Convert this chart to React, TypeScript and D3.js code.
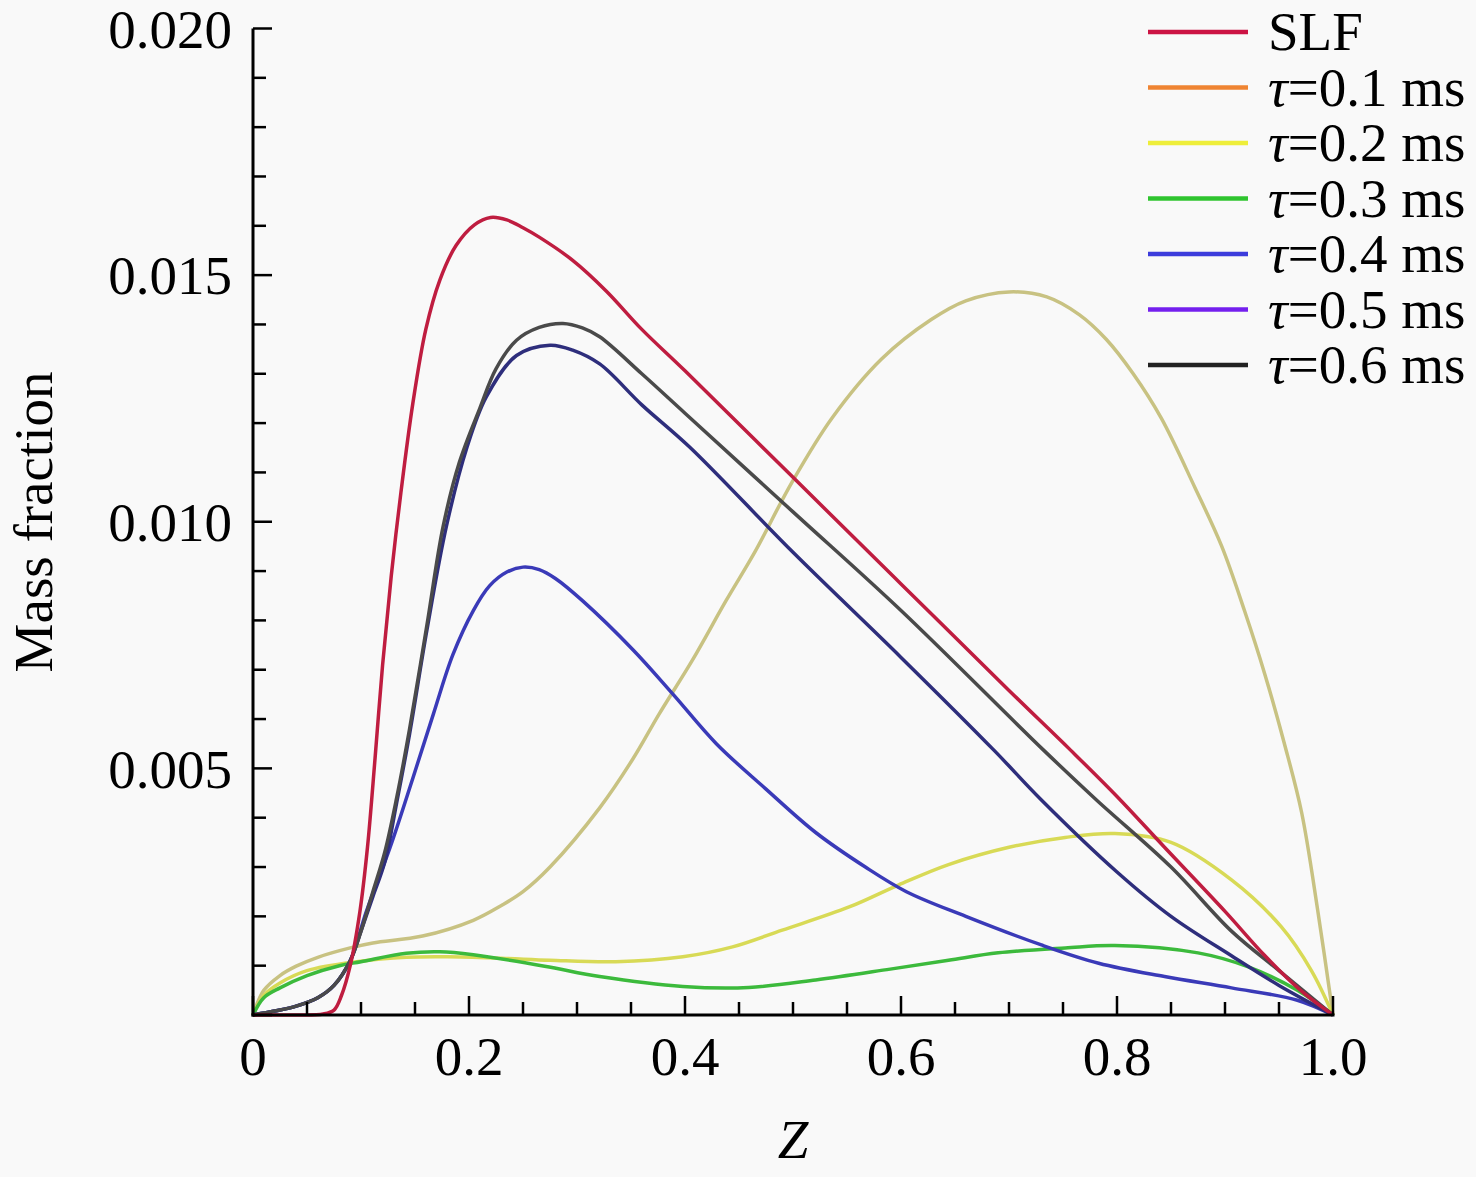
import React from 'react';
import * as d3 from 'd3';

const W = 1476;
const H = 1177;
const FONT = '"Liberation Serif", "Times New Roman", serif';

// data: [Z, mass fraction]
const slf: [number, number][] = [
  [0, 0], [0.04, 0], [0.065, 0.00002], [0.075, 0.0001], [0.082, 0.0004], [0.09, 0.001],
  [0.099, 0.0021], [0.106, 0.0034], [0.113, 0.0052], [0.12, 0.0071], [0.128, 0.0089],
  [0.137, 0.0106], [0.148, 0.0124], [0.16, 0.0139], [0.173, 0.0149], [0.188, 0.0156],
  [0.205, 0.01602], [0.22, 0.01617], [0.235, 0.01612], [0.25, 0.01596], [0.265, 0.01577],
  [0.296, 0.0153], [0.327, 0.01468], [0.36, 0.0139], [0.4, 0.01306], [0.5, 0.0109],
  [0.6, 0.00874], [0.7, 0.00658], [0.757, 0.00537], [0.8, 0.00443], [0.844, 0.0034],
  [0.9, 0.0021], [0.937, 0.0012], [0.97, 0.0005], [1, 0],
];
const tau01: [number, number][] = [
  [0, 0], [0.01, 0.0005], [0.025, 0.0008], [0.04, 0.00099], [0.06, 0.00117], [0.09, 0.00136],
  [0.111, 0.00146], [0.157, 0.0016], [0.204, 0.00192], [0.23, 0.00222], [0.25, 0.0025],
  [0.275, 0.003], [0.321, 0.0042], [0.352, 0.0052], [0.376, 0.0061], [0.407, 0.0072],
  [0.438, 0.0084], [0.465, 0.0094], [0.499, 0.0108], [0.536, 0.0121], [0.582, 0.0133],
  [0.628, 0.0141], [0.66, 0.01448], [0.7, 0.01466], [0.735, 0.01456], [0.765, 0.0142],
  [0.79, 0.0137], [0.815, 0.013], [0.841, 0.0121], [0.872, 0.0107], [0.897, 0.0095],
  [0.918, 0.0082], [0.937, 0.0069], [0.955, 0.0055], [0.971, 0.0041], [0.986, 0.0021], [1, 0],
];
const tau02: [number, number][] = [
  [0, 0], [0.01, 0.0004], [0.025, 0.00065], [0.05, 0.0009], [0.096, 0.00108],
  [0.142, 0.00117], [0.18, 0.00118], [0.23, 0.00115], [0.275, 0.00111], [0.336, 0.00108],
  [0.398, 0.00118], [0.444, 0.00138], [0.49, 0.00172], [0.552, 0.00219], [0.598, 0.00264],
  [0.644, 0.00305], [0.7, 0.0034], [0.752, 0.0036], [0.798, 0.00368], [0.85, 0.0035],
  [0.906, 0.00274], [0.952, 0.00179], [0.98, 0.0009], [1, 0],
];
const tau03: [number, number][] = [
  [0, 0], [0.01, 0.00035], [0.025, 0.00055], [0.05, 0.0008], [0.08, 0.001], [0.1, 0.00108],
  [0.142, 0.00125], [0.173, 0.00128], [0.204, 0.00122], [0.27, 0.00099], [0.321, 0.00078],
  [0.398, 0.00058], [0.459, 0.00056], [0.521, 0.00071], [0.59, 0.00093], [0.644, 0.00111],
  [0.69, 0.00126], [0.752, 0.00136], [0.798, 0.00141], [0.875, 0.00126], [0.921, 0.00098],
  [0.967, 0.0005], [1, 0],
];
const tau04: [number, number][] = [
  [0, 0], [0.02, 0.00008], [0.04, 0.00018], [0.06, 0.00035], [0.075, 0.0006], [0.09, 0.0011],
  [0.105, 0.0021], [0.127, 0.0034], [0.148, 0.0048], [0.167, 0.0061], [0.185, 0.0073],
  [0.204, 0.0082], [0.219, 0.0087], [0.235, 0.00898], [0.25, 0.00908], [0.265, 0.00903],
  [0.28, 0.00885], [0.305, 0.0084], [0.352, 0.0074], [0.389, 0.0065], [0.429, 0.0055],
  [0.475, 0.00458], [0.521, 0.0037], [0.567, 0.003], [0.605, 0.0025], [0.66, 0.002],
  [0.73, 0.00142], [0.783, 0.00105], [0.844, 0.00078], [0.906, 0.00055], [0.967, 0.0003], [1, 0],
];
const tau05: [number, number][] = [
  [0, 0], [0.02, 0.00008], [0.04, 0.00018], [0.06, 0.00035], [0.075, 0.0006], [0.09, 0.0011],
  [0.1, 0.0017], [0.111, 0.0024], [0.122, 0.0031], [0.133, 0.0043], [0.145, 0.0057],
  [0.161, 0.0078], [0.179, 0.0099], [0.198, 0.0115], [0.216, 0.01253], [0.244, 0.01337],
  [0.275, 0.01358], [0.296, 0.01348], [0.321, 0.0132], [0.36, 0.01237], [0.404, 0.01152],
  [0.5, 0.00938], [0.6, 0.00725], [0.686, 0.00537], [0.73, 0.00436], [0.8, 0.0029],
  [0.85, 0.002], [0.906, 0.0012], [0.95, 0.0006], [1, 0],
];
const tau06: [number, number][] = [
  [0, 0], [0.02, 0.00008], [0.04, 0.00018], [0.06, 0.00035], [0.075, 0.0006], [0.09, 0.0011],
  [0.1, 0.0017], [0.111, 0.0025], [0.122, 0.0033], [0.133, 0.0044], [0.145, 0.0058],
  [0.161, 0.0079], [0.176, 0.0099], [0.191, 0.0112], [0.21, 0.0123], [0.225, 0.0131],
  [0.244, 0.01368], [0.265, 0.01394], [0.287, 0.01402], [0.305, 0.01393], [0.321, 0.01375],
  [0.36, 0.013], [0.4, 0.0122], [0.5, 0.0102], [0.6, 0.0082], [0.732, 0.00537],
  [0.781, 0.00436], [0.85, 0.003], [0.906, 0.0017], [0.95, 0.0009], [1, 0],
];

const tauLabels = ['0.1', '0.2', '0.3', '0.4', '0.5', '0.6'];
const xTickLabels = ['0', '0.2', '0.4', '0.6', '0.8', '1.0'];
const yTickLabels = ['0.005', '0.010', '0.015', '0.020'];

// plot colour (as it shows in the figure) and legend key colour
const series = [
  { name: 'SLF', data: slf, stroke: '#bf1d40', key: '#cc1444' },
  { name: tauLabels[0], data: tau01, stroke: '#c8c282', key: '#ef8432' },
  { name: tauLabels[1], data: tau02, stroke: '#d8da56', key: '#eeee3a' },
  { name: tauLabels[2], data: tau03, stroke: '#3cba3c', key: '#2fc42f' },
  { name: tauLabels[3], data: tau04, stroke: '#3a3ab8', key: '#3c3cdc' },
  { name: tauLabels[4], data: tau05, stroke: '#2e2e7c', key: '#7420ee' },
  { name: tauLabels[5], data: tau06, stroke: '#4a4a4a', key: '#222222' },
];
const drawOrder = [1, 2, 3, 4, 5, 6, 0];

export default function App() {
  const x = d3.scaleLinear().domain([0, 1]).range([253, 1333]);
  const y = d3.scaleLinear().domain([0, 0.02]).range([1015, 28.5]);
  const line = d3.line<[number, number]>()
    .x(d => x(d[0]))
    .y(d => Math.min(y(0), y(d[1])))
    .curve(d3.curveCatmullRom.alpha(0.5));

  const xMinor = d3.range(0, 1.0001, 0.05);
  const yMinor = d3.range(0, 0.02001, 0.001);

  return (
    <svg width={W} height={H} style={{ position: 'absolute', left: 0, top: 0, display: 'block' }}
      fontFamily={FONT}>
      <rect width={W} height={H} fill="#f9f9f9" />

      {drawOrder.map(i => (
        <path key={i} d={line(series[i].data) ?? ''} fill="none"
          stroke={series[i].stroke} strokeWidth={3.5} strokeLinejoin="round" />
      ))}

      {/* axes */}
      <line x1={x(0)} x2={x(0)} y1={y(0.02)} y2={y(0) + 1.5} stroke="#000" strokeWidth={3} />
      <line x1={x(0) - 1.5} x2={x(1) + 1.5} y1={y(0)} y2={y(0)} stroke="#000" strokeWidth={3} />
      {yMinor.map((v, i) => (
        <line key={'yt' + i} x1={x(0)} x2={x(0) + (i % 5 === 0 ? 19 : 13)} y1={y(v)} y2={y(v)}
          stroke="#000" strokeWidth={2.5} />
      ))}
      {xMinor.map((v, i) => (
        <line key={'xt' + i} x1={x(v)} x2={x(v)} y1={y(0)} y2={y(0) - (i % 4 === 0 ? 19 : 13)}
          stroke="#000" strokeWidth={2.5} />
      ))}
      {yTickLabels.map(t => (
        <text key={t} x={232} y={y(+t)} dy="0.35em" textAnchor="end" fontSize={55} fill="#000">{t}</text>
      ))}
      {xTickLabels.map(t => (
        <text key={t} x={x(+t)} y={1075} textAnchor="middle" fontSize={55} fill="#000">{t}</text>
      ))}
      <text transform="translate(52,522) rotate(-90)" textAnchor="middle" fontSize={55} fill="#000">
        Mass fraction
      </text>
      <text x={x(0.5)} y={1158} textAnchor="middle" fontSize={55} fontStyle="italic" fill="#000">Z</text>

      {/* legend */}
      {series.map((s, i) => {
        const cy = 32 + i * 55.5;
        return (
          <g key={'lg' + i}>
            <line x1={1148} x2={1248} y1={cy} y2={cy} stroke={s.key} strokeWidth={4.5} />
            <text x={1268} y={cy + 18} fontSize={55} fill="#000">
              {i === 0 ? s.name : (
                <>
                  <tspan fontStyle="italic">τ</tspan>
                  <tspan>{'=' + s.name + ' ms'}</tspan>
                </>
              )}
            </text>
          </g>
        );
      })}
    </svg>
  );
}
